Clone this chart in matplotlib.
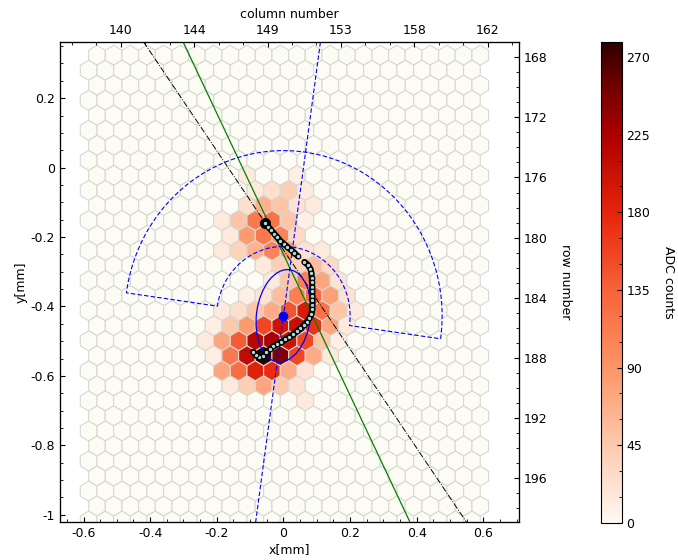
import matplotlib
matplotlib.use('Agg')
import matplotlib.pyplot as plt
import numpy as np
from matplotlib.collections import PolyCollection
from matplotlib.colors import LinearSegmentedColormap, Normalize
from matplotlib.cm import ScalarMappable
from matplotlib.patches import Ellipse, Wedge
from matplotlib.ticker import MultipleLocator, AutoMinorLocator, FuncFormatter

plt.rcParams['font.size'] = 9
plt.rcParams['axes.unicode_minus'] = False

# detector window geometry (mm)
pitch = 0.05
row_step = pitch * np.sqrt(3) / 2
first_row = 168
n_rows = 32
n_cols = 24
y_first_row = 0.3238
x_first_even = -0.5596
x_first_odd = -0.5846

# hit pixels: row number, column index in the window, ADC counts
hit_rows = [176, 176,
            177, 177, 177, 177,
            178, 178, 178, 178, 178,
            179, 179, 179, 179, 179, 179,
            180, 180, 180, 180, 180,
            181, 181, 181, 181, 181, 181, 181,
            182, 182, 182, 182, 182,
            183, 183, 183, 183, 183,
            184, 184, 184, 184, 184, 184, 184,
            185, 185, 185, 185, 185, 185, 185, 185, 185,
            186, 186, 186, 186, 186, 186, 186, 186, 186,
            187, 187, 187, 187, 187, 187, 187, 187, 187,
            188, 188, 188, 188, 188, 188, 188, 188,
            189, 189, 189, 189, 189, 189,
            190, 190, 190, 190, 190,
            191]
hit_cols = [9, 12,
            10, 11, 12, 13,
            9, 10, 11, 12, 13,
            8, 9, 10, 11, 12, 13,
            8, 9, 10, 11, 12,
            8, 9, 10, 11, 12, 13, 14,
            10, 11, 12, 13, 14,
            11, 12, 13, 14, 15,
            9, 10, 11, 12, 13, 14, 15,
            8, 9, 10, 11, 12, 13, 14, 15, 16,
            7, 8, 9, 10, 11, 12, 13, 14, 15,
            7, 8, 9, 10, 11, 12, 13, 14, 15,
            7, 8, 9, 10, 11, 12, 13, 14,
            8, 9, 10, 11, 12, 13,
            8, 9, 10, 11, 12,
            13]
hit_adc = [12, 10,
           15, 25, 40, 12,
           25, 65, 50, 20, 15,
           15, 50, 115, 120, 50, 10,
           15, 85, 115, 105, 30,
           15, 35, 65, 105, 80, 20, 15,
           15, 40, 35, 55, 30,
           15, 50, 110, 75, 20,
           10, 20, 55, 110, 130, 80, 20,
           15, 25, 50, 70, 145, 190, 120, 50, 12,
           10, 45, 85, 155, 200, 205, 170, 75, 15,
           15, 75, 140, 215, 225, 200, 155, 50, 10,
           10, 115, 210, 279, 245, 155, 70, 15,
           75, 125, 185, 175, 70, 20,
           15, 40, 75, 45, 20,
           15]

# reconstructed track points (mm), two pieces
track_a_x = [-0.0555, -0.0450, -0.0360, -0.0270, -0.0180, -0.0090, 0.0015, 0.0120,
             0.0225, 0.0330, 0.0435]
track_a_y = [-0.1602, -0.1708, -0.1809, -0.1910, -0.2011, -0.2112, -0.2198, -0.2285,
             -0.2371, -0.2458, -0.2558]
track_b_x = [0.0630, 0.0735, 0.0810, 0.0840, 0.0849, 0.0855, 0.0861, 0.0864,
             0.0867, 0.0870, 0.0870, 0.0867, 0.0840, 0.0780, 0.0699, 0.0609,
             0.0510, 0.0405, 0.0294, 0.0180, 0.0060, -0.0060, -0.0180, -0.0300,
             -0.0411, -0.0516, -0.0615, -0.0720, -0.0825, -0.0906]
track_b_y = [-0.2717, -0.2803, -0.2918, -0.3048, -0.3178, -0.3307, -0.3437, -0.3567,
             -0.3696, -0.3826, -0.3956, -0.4085, -0.4215, -0.4330, -0.4440, -0.4541,
             -0.4633, -0.4719, -0.4800, -0.4878, -0.4950, -0.5022, -0.5088, -0.5151,
             -0.5232, -0.5324, -0.5425, -0.5468, -0.5411, -0.5310]

# moments analysis / direction reconstruction
barycenter = (0.0, -0.427)
phi_axis = 82.0          # deg
semi_major = 0.134
semi_minor = 0.081
impact_point = (-0.0555, -0.158)
phi_impact = -55.0
green_point = (0.0, -0.250)
phi_green = -63.8
r_inner = 0.2
r_outer = 0.476

xlim = (-0.6705, 0.7075)
ylim = (-1.0222, 0.363)
col_lim = (136.35, 163.9)
row_lim = (198.95, 166.96)

cmap = LinearSegmentedColormap.from_list(
    'adc', [(0.0, '#fff8f3'), (0.16, '#fdc9ad'), (0.32, '#fc9568'), (0.48, '#f7643a'),
            (0.64, '#e8260c'), (0.80, '#b00000'), (0.92, '#6a0000'), (1.0, '#2e0000')])
norm = Normalize(0, max(hit_adc))

fig = plt.figure(figsize=(6.78, 5.6), dpi=100)
ax = fig.add_axes([0.0885, 0.0671, 0.6774, 0.8586])

# hexagonal pixel grid
kk, jj = np.meshgrid(np.arange(n_rows), np.arange(n_cols), indexing='ij')
cx = np.where(kk % 2 == 0, x_first_even, x_first_odd) + jj * pitch
cy = y_first_row - kk * row_step
ang = np.radians(np.arange(30, 390, 60))
rad = pitch / np.sqrt(3)
verts = np.stack([cx[..., None] + rad * np.cos(ang),
                  cy[..., None] + rad * np.sin(ang)], axis=-1).reshape(-1, 6, 2)
adc = np.zeros((n_rows, n_cols))
adc[np.array(hit_rows) - first_row, hit_cols] = hit_adc
adc = adc.ravel()
faces = np.where((adc > 0)[:, None], cmap(norm(adc)), matplotlib.colors.to_rgba('#fcfcf4'))
hexes = PolyCollection(verts, facecolors=faces, edgecolors='#d8d8d3', linewidths=0.8, zorder=1)
ax.add_collection(hexes)

# direction lines
ax.axline(impact_point, slope=np.tan(np.radians(phi_impact)), color='black',
          ls='-.', lw=0.7, zorder=2)
ax.axline(green_point, slope=np.tan(np.radians(phi_green)), color='green', lw=0.9, zorder=2)
ax.axline(barycenter, slope=np.tan(np.radians(phi_axis)), color='blue',
          ls=(0, (4, 2)), lw=0.8, zorder=2)

ax.add_patch(Wedge(barycenter, r_outer, phi_axis - 90, phi_axis + 90, width=r_outer - r_inner,
                   fill=False, ec='blue', ls=(0, (4, 2)), lw=0.8, zorder=3))
ax.add_patch(Ellipse(barycenter, 2 * semi_major, 2 * semi_minor, angle=phi_axis,
                     fill=False, ec='blue', lw=0.9, zorder=3))

# track: black band with light dots
ax.plot(track_a_x[0], track_a_y[0], 'o', color='black', ms=7, zorder=4)
for tx, ty in ((track_a_x, track_a_y), (track_b_x, track_b_y)):
    ax.plot(tx, ty, color='black', lw=4.4, solid_capstyle='round', zorder=4)
    ax.plot(tx, ty, 'o', mfc='#a9dcdb', mec='black', ms=3.3, mew=0.8, ls='none', zorder=5)
ax.plot(*barycenter, 'o', color='blue', ms=6, zorder=6)

fmt = FuncFormatter(lambda v, p: f'{round(v, 6) + 0:g}')
ax.set_xlim(*xlim)
ax.set_ylim(*ylim)
ax.xaxis.set_major_locator(MultipleLocator(0.2))
ax.xaxis.set_minor_locator(MultipleLocator(0.05))
ax.yaxis.set_major_locator(MultipleLocator(0.2))
ax.yaxis.set_minor_locator(MultipleLocator(0.05))
ax.xaxis.set_major_formatter(fmt)
ax.yaxis.set_major_formatter(fmt)
ax.tick_params(which='both', direction='in')
ax.set_xlabel('x[mm]', labelpad=2)
ax.set_ylabel('y[mm]', labelpad=2)

axt = ax.twiny()
axt.set_xlim(*col_lim)
col_ticks = np.linspace(140, 162, 6)
axt.set_xticks(col_ticks)
axt.set_xticklabels([f'{v:.0f}' for v in col_ticks])
axt.xaxis.set_minor_locator(AutoMinorLocator(3))
axt.tick_params(which='both', direction='in')
axt.set_xlabel('column number')

axr = ax.twinx()
axr.set_ylim(*row_lim)
axr.set_yticks(np.arange(168, 197, 4))
axr.yaxis.set_minor_locator(MultipleLocator(1))
axr.tick_params(which='both', direction='in')
axr.set_ylabel('row number', rotation=270, va='bottom', labelpad=8)

cax = fig.add_axes([0.886, 0.0666, 0.031, 0.859])
cb = fig.colorbar(ScalarMappable(norm=norm, cmap=cmap), cax=cax)
cb.set_ticks(np.arange(0, 271, 45))
cb.ax.yaxis.set_minor_locator(MultipleLocator(15))
cb.ax.tick_params(which='both', direction='in')
cb.outline.set_linewidth(0.8)
cb.set_label('ADC counts', rotation=270, va='bottom', labelpad=8)

fig.savefig('out.png', dpi=100)
